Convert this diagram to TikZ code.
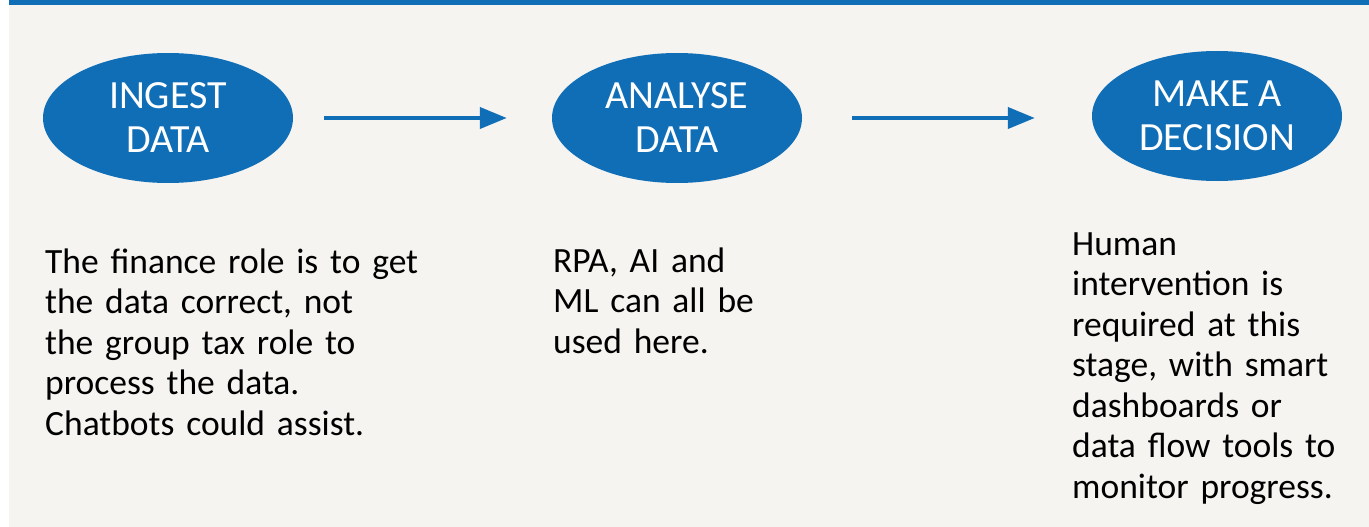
\documentclass[tikz,border=0pt]{standalone}
\usepackage{fontspec}
\setmainfont{Carlito}
\usetikzlibrary{arrows.meta,positioning,shapes.geometric}
\definecolor{stageblue}{RGB}{16,110,183}
\definecolor{paper}{RGB}{245,244,241}

\begin{document}
\begin{tikzpicture}[x=1pt,y=-1pt]
    \tikzset{stage/.style= {ellipse, fill=stageblue
    , minimum width=250pt, minimum height=130pt
    , inner sep=0pt
    , text=white, align=center
    , font=\fontsize{40}{44}\selectfont
      }
    , note/.style= {anchor=base west, inner sep=0pt
    , text width=380pt, align=left
    , font=\fontsize{35.5}{40.5}\selectfont
      }
    , flow/.style= {draw=stageblue, line width=4pt
    , -{Triangle[length=27pt,width=21pt]}
      }
    }

\useasboundingbox (0,0) rectangle (1369,527);
% page and top rule
\fill[white] (0,0) rectangle (1369,527);
\fill[paper] (9,5) rectangle (1369,527);
\fill[stageblue] (9,0) rectangle (1369,5);

\node [stage] (ingest) at (168,118) {INGEST\\DATA};
\node [stage] (analyse) at (677,118) {ANALYSE\\DATA};
\node [stage] (decide) at (1217,116) {MAKE A\\DECISION};

\node [note] (ingestnote) at (45,273) {The finance role is to get\\the data correct, not\\the group tax role to\\process the data.\\Chatbots could assist.};
\node [note] (analysenote) at (553,272) {RPA, AI and\\ML can all be\\used here.};
\node [note] (decidenote) at (1072,255) {Human\\intervention is\\required at this\\stage, with smart\\dashboards or\\data flow tools to\\monitor progress.};

 \path[flow, shorten <=31pt, shorten >=45pt]
  (ingest.east) -- (analyse.west);
 \path[flow, shorten <=50pt, shorten >=57pt]
  (analyse.east) -- (analyse.east -| decide.west);
\end{tikzpicture}
\end{document}
